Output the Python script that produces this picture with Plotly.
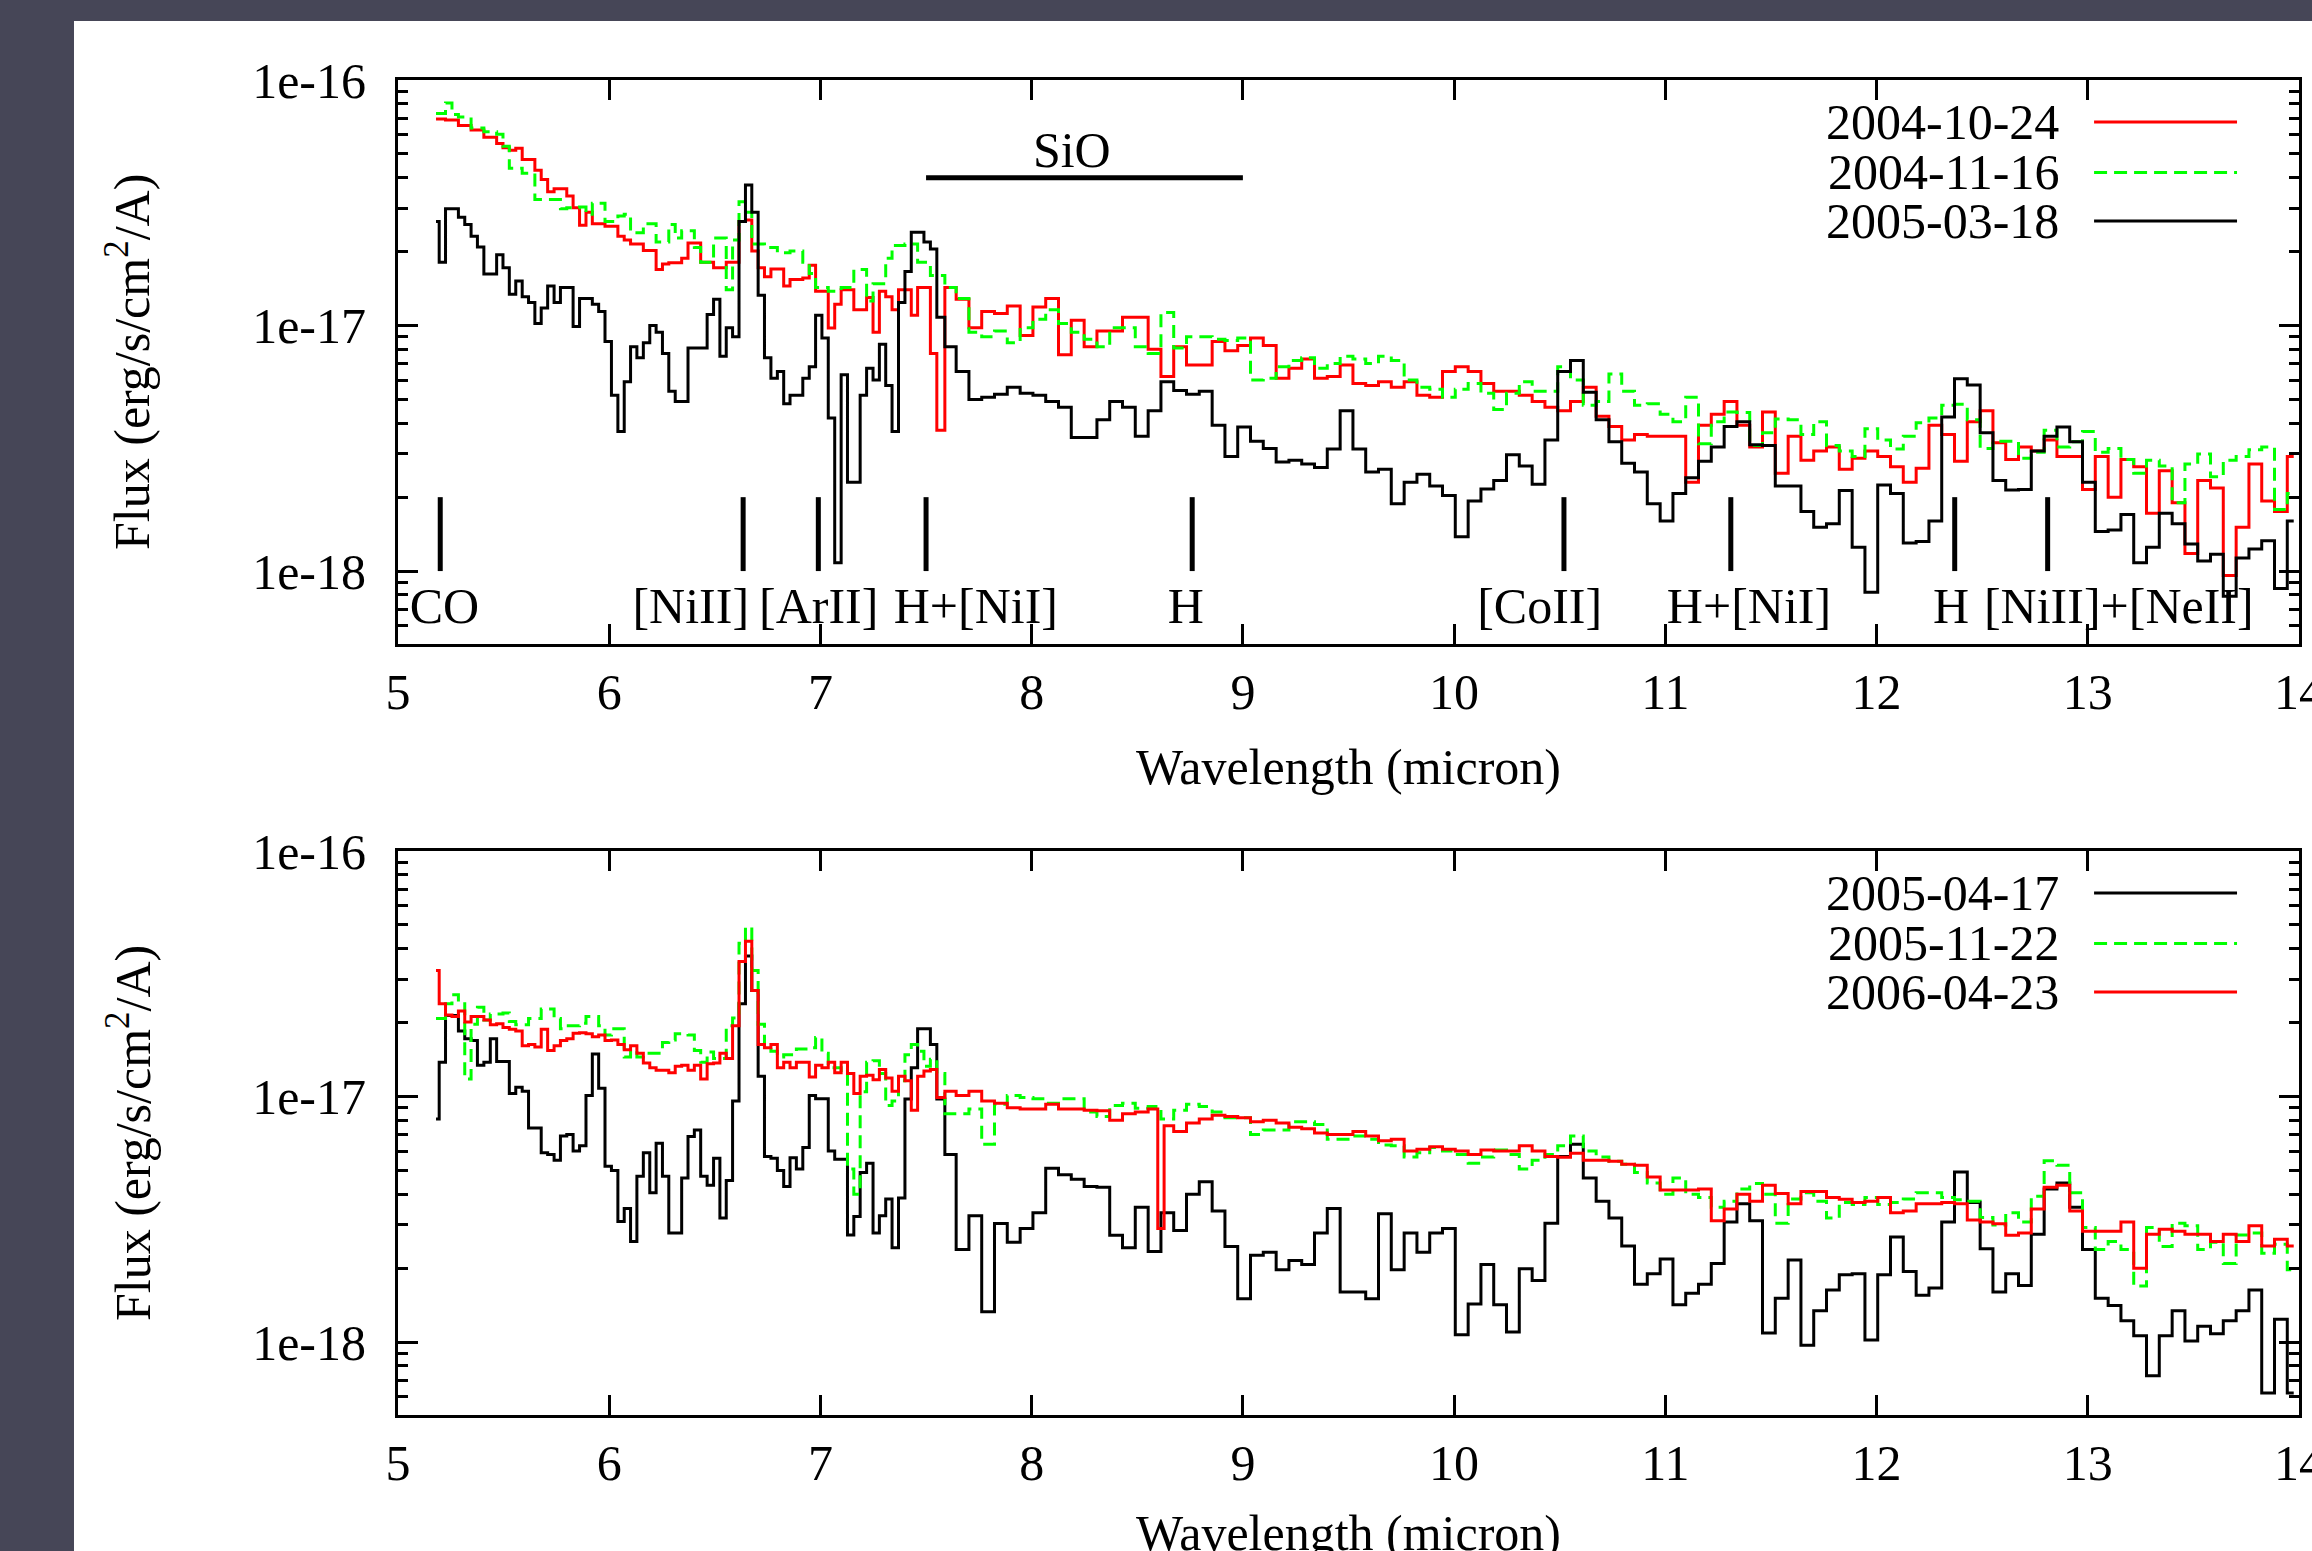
import bisect
import plotly.graph_objects as go

# ---------------- data (flux in units of 1e-18 erg/s/cm^2/A) ----------------
wavelength = [
    5.180, 5.210, 5.240, 5.271, 5.301, 5.331, 5.361, 5.391, 5.422, 5.452,
    5.482, 5.512, 5.542, 5.573, 5.603, 5.633, 5.663, 5.693, 5.724, 5.754,
    5.784, 5.814, 5.844, 5.875, 5.905, 5.935, 5.965, 5.995, 6.026, 6.056,
    6.086, 6.116, 6.146, 6.177, 6.207, 6.237, 6.267, 6.297, 6.328, 6.358,
    6.388, 6.418, 6.448, 6.479, 6.509, 6.539, 6.569, 6.599, 6.630, 6.660,
    6.690, 6.720, 6.750, 6.781, 6.811, 6.841, 6.871, 6.901, 6.932, 6.962,
    6.992, 7.022, 7.052, 7.083, 7.113, 7.143, 7.173, 7.203, 7.234, 7.264,
    7.294, 7.324, 7.354, 7.385, 7.415, 7.445, 7.475, 7.505, 7.536, 7.566,
    7.612, 7.673, 7.733, 7.794, 7.854, 7.915, 7.976, 8.036, 8.097, 8.157,
    8.218, 8.279, 8.339, 8.400, 8.460, 8.521, 8.582, 8.642, 8.703, 8.763,
    8.824, 8.885, 8.945, 9.006, 9.066, 9.127, 9.188, 9.248, 9.309, 9.369,
    9.430, 9.491, 9.551, 9.612, 9.672, 9.733, 9.794, 9.854, 9.915, 9.975,
    10.036, 10.097, 10.157, 10.218, 10.278, 10.339, 10.400, 10.460, 10.521, 10.581,
    10.642, 10.703, 10.763, 10.824, 10.884, 10.945, 11.006, 11.066, 11.127, 11.187,
    11.248, 11.309, 11.369, 11.430, 11.490, 11.551, 11.612, 11.672, 11.733, 11.793,
    11.854, 11.915, 11.975, 12.036, 12.096, 12.157, 12.218, 12.278, 12.339, 12.399,
    12.460, 12.521, 12.581, 12.642, 12.702, 12.763, 12.824, 12.884, 12.945, 13.005,
    13.066, 13.127, 13.187, 13.248, 13.308, 13.369, 13.430, 13.490, 13.551, 13.611,
    13.672, 13.733, 13.793, 13.854, 13.914, 13.975,
]

flux_2004_10_24 = [
    69.4, 69.4, 68.7, 68.7, 65.2, 65.2, 62.6, 62.6, 58.4, 58.4,
    55.1, 53.0, 51.8, 52.7, 47.5, 47.5, 42.9, 39.3, 35.1, 36.1,
    36.1, 33.7, 30.2, 25.6, 28.9, 26.0, 26.0, 25.4, 25.4, 23.1,
    22.3, 21.5, 21.5, 20.2, 20.2, 16.9, 17.8, 18.0, 18.0, 18.8,
    21.7, 21.7, 18.1, 18.1, 17.2, 17.2, 18.1, 18.1, 26.5, 26.9,
    20.1, 17.2, 15.8, 17.0, 17.0, 14.5, 15.4, 15.4, 15.6, 17.6,
    13.8, 13.8, 9.77, 12.2, 14.0, 14.0, 11.6, 11.6, 13.0, 9.4,
    13.8, 13.1, 11.6, 14.0, 14.0, 11.0, 14.3, 14.3, 7.7, 3.75,
    14.3, 12.8, 9.8, 11.4, 11.2, 12.0, 9.1, 11.9, 12.9, 7.6,
    10.5, 8.2, 9.5, 9.5, 10.8, 10.8, 8.0, 6.2, 8.2, 6.9,
    6.9, 8.6, 7.9, 8.3, 8.9, 8.3, 6.1, 6.7, 7.3, 6.1,
    6.2, 6.9, 5.8, 5.7, 5.9, 5.6, 5.9, 5.2, 5.1, 6.5,
    6.8, 6.5, 5.8, 5.4, 5.4, 5.2, 4.9, 4.65, 4.5, 4.9,
    5.6, 4.27, 3.88, 3.42, 3.6, 3.54, 3.54, 3.54, 2.3, 3.93,
    4.35, 4.9, 3.93, 3.2, 4.45, 2.5, 3.54, 2.83, 3.08, 3.2,
    2.6, 2.88, 3.08, 2.93, 2.66, 2.3, 2.62, 3.93, 3.6, 2.8,
    4.06, 4.5, 3.33, 2.85, 3.2, 3.08, 3.42, 2.93, 2.93, 2.15,
    2.93, 2.0, 2.85, 2.66, 1.72, 2.56, 1.9, 1.18, 2.34, 2.18,
    0.96, 1.51, 2.73, 1.93, 1.75, 2.93,
]

flux_2004_11_16 = [
    73.0, 73.0, 80.6, 72.4, 70.6, 70.6, 63.7, 63.7, 61.5, 61.5,
    60.1, 53.7, 43.7, 43.7, 41.7, 41.7, 32.6, 32.6, 32.6, 32.6,
    29.9, 30.2, 30.2, 30.4, 28.4, 31.5, 31.5, 26.5, 26.5, 27.9,
    28.4, 23.9, 23.9, 26.0, 26.0, 21.9, 21.9, 25.8, 22.7, 24.3,
    24.3, 20.8, 18.1, 18.1, 22.7, 22.7, 14.0, 22.3, 31.9, 28.9,
    21.5, 21.5, 20.8, 20.8, 19.8, 19.8, 20.1, 20.1, 18.1, 16.3,
    14.3, 14.3, 13.8, 13.8, 14.3, 14.3, 16.9, 16.9, 12.6, 14.8,
    14.8, 18.8, 21.2, 21.2, 21.5, 21.5, 18.1, 18.1, 16.0, 16.0,
    14.3, 12.9, 9.4, 9.0, 9.5, 8.5, 9.8, 10.6, 11.6, 10.2,
    9.4, 8.8, 8.2, 9.8, 9.8, 8.2, 7.7, 11.3, 8.1, 9.0,
    9.0, 8.8, 8.7, 8.9, 6.0, 6.1, 6.8, 7.2, 7.4, 6.7,
    7.0, 7.5, 7.3, 7.0, 7.5, 7.2, 6.0, 5.6, 5.5, 5.1,
    5.5, 5.8, 5.3, 4.55, 5.3, 5.9, 5.4, 5.4, 6.8, 6.0,
    4.74, 4.9, 6.35, 5.4, 4.74, 4.8, 4.35, 4.06, 5.1, 3.3,
    4.06, 4.45, 4.42, 3.25, 3.66, 4.16, 4.13, 3.6, 4.06, 3.25,
    3.08, 2.93, 3.8, 3.42, 3.14, 3.54, 4.02, 4.2, 4.74, 4.78,
    4.13, 3.16, 3.38, 3.38, 2.88, 3.05, 3.75, 3.2, 3.36, 3.7,
    3.05, 3.16, 2.85, 2.5, 2.83, 2.68, 1.9, 2.73, 3.0, 2.42,
    2.83, 2.93, 3.12, 3.2, 1.78, 2.07,
]

flux_2005_03_18 = [
    26.5, 18.1, 29.9, 29.9, 27.6, 25.8, 23.1, 20.9, 16.2, 16.2,
    19.4, 17.2, 13.4, 15.2, 13.1, 12.4, 10.2, 11.8, 14.5, 12.4,
    14.3, 14.3, 9.9, 12.9, 12.9, 12.2, 11.4, 8.6, 5.2, 3.7,
    5.9, 8.2, 7.4, 8.5, 10.0, 9.4, 7.7, 5.4, 4.9, 4.9,
    8.1, 8.1, 8.1, 11.1, 12.8, 7.5, 9.8, 9.0, 26.5, 37.4,
    28.9, 13.3, 7.4, 6.1, 6.5, 4.8, 5.2, 5.2, 6.1, 6.8,
    11.0, 8.9, 4.2, 1.08, 6.3, 2.3, 2.3, 5.2, 6.7, 6.0,
    8.4, 5.7, 3.7, 12.4, 16.6, 24.0, 24.0, 21.9, 20.5, 10.8,
    8.2, 6.5, 5.0, 5.1, 5.25, 5.6, 5.3, 5.2, 4.9, 4.65,
    3.5, 3.5, 4.13, 4.9, 4.65, 3.54, 4.5, 5.9, 5.44, 5.25,
    5.4, 3.93, 2.93, 3.86, 3.38, 3.16, 2.78, 2.83, 2.73, 2.64,
    3.14, 4.5, 3.14, 2.53, 2.6, 1.88, 2.3, 2.48, 2.22, 2.03,
    1.38, 1.93, 2.16, 2.34, 2.98, 2.68, 2.26, 3.42, 6.5, 7.2,
    5.35, 4.13, 3.36, 2.75, 2.53, 1.88, 1.6, 2.07, 2.4, 2.8,
    3.2, 3.88, 4.06, 3.27, 3.25, 2.22, 2.22, 1.75, 1.51, 1.56,
    2.13, 1.25, 0.82, 2.24, 2.07, 1.3, 1.32, 1.6, 4.24, 6.07,
    5.73, 3.66, 2.34, 2.14, 2.15, 3.08, 3.54, 3.86, 3.36, 2.3,
    1.45, 1.47, 1.7, 1.08, 1.25, 1.72, 1.56, 1.29, 1.1, 1.17,
    0.79, 1.13, 1.23, 1.33, 0.85, 1.6,
]

flux_2005_04_17 = [
    8.1, 13.8, 21.4, 21.4, 18.5, 17.2, 16.9, 13.4, 13.8, 17.2,
    13.9, 13.9, 10.3, 10.9, 10.5, 7.45, 7.45, 5.9, 5.8, 5.5,
    6.9, 7.0, 6.0, 6.3, 10.1, 14.9, 10.8, 5.2, 5.0, 3.1,
    3.5, 2.57, 4.74, 5.9, 4.06, 6.46, 4.74, 2.78, 2.78, 4.66,
    6.88, 7.3, 4.74, 4.35, 5.6, 3.2, 4.55, 9.6, 23.9, 37.4,
    27.0, 12.1, 5.7, 5.6, 5.0, 4.3, 5.63, 5.07, 6.2, 10.1,
    9.8, 9.8, 6.0, 5.55, 5.55, 2.73, 3.25, 4.9, 5.35, 2.78,
    3.27, 3.83, 2.42, 3.86, 9.77, 13.1, 18.9, 18.9, 16.3, 9.77,
    5.8, 2.38, 3.27, 1.33, 3.04, 2.55, 2.9, 3.36, 5.1, 4.8,
    4.6, 4.3, 4.27, 2.72, 2.42, 3.54, 2.34, 3.36, 2.85, 4.0,
    4.5, 3.42, 2.45, 1.5, 2.26, 2.32, 1.97, 2.15, 2.07, 2.78,
    3.5, 1.6, 1.6, 1.5, 3.33, 1.97, 2.78, 2.32, 2.78, 2.9,
    1.07, 1.43, 2.07, 1.42, 1.1, 1.99, 1.78, 3.05, 5.7, 6.4,
    4.66, 3.75, 3.2, 2.46, 1.72, 1.9, 2.18, 1.42, 1.58, 1.72,
    2.09, 3.08, 3.66, 3.12, 1.09, 1.51, 2.16, 0.97, 1.34, 1.63,
    1.88, 1.9, 1.02, 1.88, 2.68, 1.94, 1.55, 1.66, 3.08, 4.93,
    3.7, 2.4, 1.6, 1.9, 1.7, 2.75, 4.2, 4.45, 3.54, 2.38,
    1.51, 1.41, 1.22, 1.06, 0.73, 1.06, 1.34, 1.01, 1.16, 1.08,
    1.22, 1.34, 1.63, 0.62, 1.24, 0.62,
]

flux_2005_11_22 = [
    20.8, 20.8, 23.9, 26.0, 24.3, 11.8, 19.7, 23.1, 20.5, 21.7,
    21.7, 21.9, 20.2, 19.6, 19.6, 20.8, 20.8, 22.7, 22.7, 20.8,
    18.9, 19.4, 19.4, 19.9, 21.2, 21.2, 19.4, 17.8, 18.9, 18.9,
    14.5, 15.4, 14.5, 15.0, 15.0, 15.0, 16.6, 17.0, 18.0, 18.0,
    17.8, 15.4, 13.8, 15.2, 14.3, 14.3, 19.4, 20.9, 42.1, 48.9,
    32.6, 19.7, 15.8, 15.3, 14.5, 14.8, 14.8, 15.6, 15.6, 15.8,
    17.4, 15.0, 13.1, 13.1, 12.6, 5.07, 4.0, 10.45, 13.8, 14.0,
    12.4, 9.2, 9.6, 11.6, 14.8, 16.3, 15.3, 13.3, 14.2, 12.4,
    8.5, 8.5, 8.9, 6.4, 9.3, 10.1, 9.9, 9.8, 9.4, 9.8,
    9.8, 8.65, 8.3, 9.2, 9.4, 8.95, 9.1, 8.1, 8.8, 9.3,
    9.1, 8.65, 8.2, 8.2, 7.0, 7.3, 7.3, 7.9, 7.9, 7.7,
    6.7, 6.7, 6.9, 6.7, 6.35, 6.3, 5.67, 5.9, 6.2, 6.0,
    5.8, 5.35, 5.67, 6.05, 5.8, 5.07, 5.5, 5.8, 6.3, 6.9,
    6.0, 5.67, 5.45, 5.3, 4.9, 4.45, 4.0, 4.66, 4.0, 3.88,
    3.54, 3.75, 4.2, 4.42, 4.0, 3.05, 3.83, 4.06, 3.75, 3.2,
    3.7, 3.63, 3.88, 3.63, 3.7, 3.83, 4.06, 4.06, 3.88, 3.8,
    3.75, 3.22, 3.0, 3.36, 3.08, 3.93, 5.47, 5.25, 4.06, 2.93,
    2.38, 2.57, 2.38, 1.69, 2.93, 2.45, 3.05, 2.98, 2.38, 2.55,
    2.09, 2.73, 2.78, 2.3, 2.5, 1.97,
]

flux_2006_04_23 = [
    32.6, 23.9, 21.5, 21.2, 22.3, 20.1, 21.2, 21.2, 20.5, 19.6,
    19.8, 19.1, 18.8, 18.5, 16.1, 16.3, 15.9, 18.8, 15.4, 16.1,
    16.9, 17.2, 18.1, 18.2, 18.0, 17.5, 17.8, 16.9, 17.0, 16.3,
    15.5, 16.1, 15.0, 13.7, 13.1, 12.8, 12.8, 12.5, 13.3, 13.4,
    12.8, 13.4, 11.8, 13.6, 13.7, 15.0, 14.3, 19.4, 35.5, 42.9,
    27.0, 16.3, 15.8, 16.3, 13.1, 13.8, 13.1, 13.8, 13.8, 12.0,
    13.4, 13.1, 13.8, 12.5, 13.8, 12.4, 10.3, 12.1, 12.2, 11.7,
    12.9, 11.9, 10.5, 12.1, 11.6, 8.8, 12.1, 12.7, 12.9, 9.9,
    10.5, 10.1, 10.5, 9.6, 9.4, 9.0, 8.9, 8.9, 9.3, 8.9,
    8.9, 8.8, 8.75, 8.0, 8.5, 8.65, 8.9, 7.6, 7.2, 7.8,
    8.1, 8.4, 8.3, 8.2, 7.9, 8.0, 7.8, 7.5, 7.4, 7.1,
    7.0, 7.0, 7.2, 6.9, 6.6, 6.7, 6.0, 6.1, 6.24, 6.1,
    6.0, 5.8, 6.05, 6.0, 6.0, 6.3, 6.0, 5.7, 5.66, 5.87,
    5.5, 5.5, 5.45, 5.3, 5.25, 4.7, 4.16, 4.16, 4.16, 4.2,
    3.12, 3.48, 4.0, 3.75, 4.35, 4.03, 3.66, 4.1, 4.1, 3.88,
    3.82, 3.7, 3.75, 3.88, 3.36, 3.42, 3.66, 3.66, 3.7, 3.66,
    3.14, 3.08, 3.03, 2.72, 2.78, 3.48, 4.27, 4.35, 3.42, 2.83,
    2.83, 2.83, 3.08, 2.0, 2.75, 2.88, 2.83, 2.75, 2.75, 2.57,
    2.75, 2.57, 2.98, 2.46, 2.62, 2.46,
]
# a single narrow drop in the 2006-04-23 spectrum near 8.6 micron
spike_2006_04_23 = (8.612, 2.9)

FLUX_UNIT = 1e-18

# line identifications (top panel)
line_names = ["CO", "[NiII]", "[ArII]", "H+[NiI]", "H", "[CoII]", "H+[NiI]", "H", "[NiII]+[NeII]"]
line_wavelengths = [5.20, 6.634, 6.99, 7.50, 8.76, 10.52, 11.31, 12.37, 12.81]
line_label_x = [5.22, 6.386, 6.992, 7.736, 8.73, 10.405, 11.396, 12.353, 13.147]
sio_band = [7.5, 9.0]

top_series = [("2004-10-24", flux_2004_10_24, "#ff0000", "solid"),
              ("2004-11-16", flux_2004_11_16, "#00ff00", "dash"),
              ("2005-03-18", flux_2005_03_18, "#000000", "solid")]
bottom_series = [("2005-04-17", flux_2005_04_17, "#000000", "solid"),
                 ("2005-11-22", flux_2005_11_22, "#00ff00", "dash"),
                 ("2006-04-23", flux_2006_04_23, "#ff0000", "solid")]

FONT = "Liberation Serif, Times New Roman, serif"
DASH = "13px,7px"
FRAME = "#464657"

fig = go.Figure()


def add_series(vals, color, dash, xa, ya, extra=None):
    xs = list(wavelength)
    ys = [v * FLUX_UNIT for v in vals]
    if extra is not None:
        i = bisect.bisect(xs, extra[0])
        xs.insert(i, extra[0])
        ys.insert(i, extra[1] * FLUX_UNIT)
    fig.add_trace(go.Scatter(
        x=xs, y=ys, mode="lines", xaxis=xa, yaxis=ya, showlegend=False,
        line=dict(shape="hvh", color=color, width=3,
                  dash=(DASH if dash == "dash" else "solid")),
        hoverinfo="skip"))


for name, vals, color, dash in top_series:
    add_series(vals, color, dash, "x", "y")
for name, vals, color, dash in bottom_series:
    add_series(vals, color, dash, "x2", "y2",
               extra=spike_2006_04_23 if name == "2006-04-23" else None)

# line markers
mx, my = [], []
for w in line_wavelengths:
    mx += [w, w, None]
    my += [1e-18, 2e-18, None]
fig.add_trace(go.Scatter(x=mx, y=my, mode="lines", xaxis="x", yaxis="y",
                         line=dict(color="black", width=5), showlegend=False,
                         hoverinfo="skip"))
fig.add_trace(go.Scatter(x=line_label_x, y=[6.9e-19] * len(line_label_x),
                         mode="text", text=line_names, xaxis="x", yaxis="y",
                         textfont=dict(family=FONT, size=50, color="black"),
                         showlegend=False, hoverinfo="skip", cliponaxis=False))
# SiO band
fig.add_trace(go.Scatter(x=sio_band, y=[4.0e-17, 4.0e-17], mode="lines",
                         xaxis="x", yaxis="y", line=dict(color="black", width=5),
                         showlegend=False, hoverinfo="skip"))
fig.add_trace(go.Scatter(x=[(sio_band[0] + sio_band[1]) / 2 - 0.06], y=[4.95e-17],
                         mode="text", text=["SiO"], xaxis="x", yaxis="y",
                         textfont=dict(family=FONT, size=50, color="black"),
                         showlegend=False, hoverinfo="skip"))

# ---------------- axes ----------------
minor_vals = [m * 10.0 ** e for e in (-19, -18, -17) for m in range(2, 10)]
common_x = dict(range=[5, 14], tickmode="linear", tick0=5, dtick=1,
                showline=True, mirror="allticks", linewidth=3, linecolor="black",
                ticks="inside", ticklen=20, tickwidth=2.5, tickcolor="black",
                showgrid=False, zeroline=False, ticklabeloverflow="allow",
                tickfont=dict(family=FONT, size=50, color="black"),
                ticklabelstandoff=2)
common_y = dict(type="log", range=[-18.297, -16], tickmode="array",
                tickvals=[1e-18, 1e-17, 1e-16], ticktext=["1e-18", "1e-17", "1e-16"],
                showline=True, mirror="allticks", linewidth=3, linecolor="black",
                ticks="inside", ticklen=20, tickwidth=2.5, tickcolor="black",
                minor=dict(tickmode="array", tickvals=minor_vals, ticks="inside",
                           ticklen=10, tickwidth=2.5, tickcolor="black", showgrid=False),
                showgrid=False, zeroline=False, ticklabeloverflow="allow",
                tickfont=dict(family=FONT, size=50, color="black"),
                ticklabelstandoff=19)

fig.update_layout(
    width=2312, height=1551, autosize=False,
    margin=dict(l=398, r=13, t=80, b=136, autoexpand=False),
    paper_bgcolor=FRAME, plot_bgcolor="white",
    font=dict(family=FONT, size=50, color="black"),
    showlegend=False,
    xaxis=dict(domain=[0, 1], anchor="y", **common_x),
    yaxis=dict(domain=[0.57753, 1], anchor="x", **common_y),
    xaxis2=dict(domain=[0, 1], anchor="y2", **common_x),
    yaxis2=dict(domain=[0, 0.42247], anchor="x2", **common_y),
)

# white page behind the figure (the reference sits on a dark frame)
fig.add_shape(type="rect", xref="paper", yref="paper", x0=-0.17044, x1=1.02,
              y0=-0.12, y1=1.04419, fillcolor="white", line=dict(width=0),
              layer="below")

# axis titles
ytitle = "Flux (erg/s/cm<sup>2</sup>/A)"
for yc in (0.7888, 0.2112):
    fig.add_annotation(xref="paper", yref="paper", x=-0.1415, y=yc, text=ytitle,
                       textangle=-90, showarrow=False, xanchor="center", yanchor="middle",
                       font=dict(family=FONT, size=50, color="black"))
for yc in (0.4854, -0.0884):
    fig.add_annotation(xref="paper", yref="paper", x=0.5, y=yc,
                       text="Wavelength (micron)", showarrow=False,
                       xanchor="center", yanchor="middle",
                       font=dict(family=FONT, size=50, color="black"))

# legends (gnuplot style: text then sample line)
legend_rows = [0.9255, 0.836, 0.75]
for xr, yr, series in (("x domain", "y domain", top_series),
                       ("x2 domain", "y2 domain", bottom_series)):
    for (name, vals, color, dash), ly in zip(series, legend_rows):
        fig.add_annotation(xref=xr, yref=yr, x=0.8748, y=ly, text=name,
                           showarrow=False, xanchor="right", yanchor="middle",
                           font=dict(family=FONT, size=50, color="black"))
        fig.add_shape(type="line", xref=xr, yref=yr, x0=0.8922, x1=0.9674,
                      y0=ly, y1=ly,
                      line=dict(color=color, width=3,
                                dash=(DASH if dash == "dash" else "solid")))

fig.write_html(
    "out.html",
    config={"displayModeBar": False},
    post_script=("document.body.style.margin='0';"
                 "document.body.style.background='" + FRAME + "';"
                 "document.documentElement.style.overflow='hidden';"),
)
